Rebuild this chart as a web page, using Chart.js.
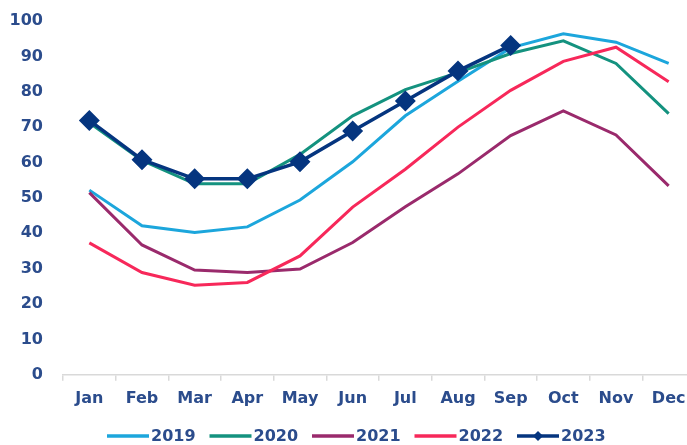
<!DOCTYPE html>
<html>
<head>
<meta charset="utf-8">
<script src="https://cdn.jsdelivr.net/npm/chart.js@4"></script>
<style>
  html, body { margin: 0; padding: 0; background: #fff; overflow: hidden; }
  #wrap { width: 700px; height: 445px; position: relative; }
</style>
</head>
<body>
<div id="wrap"><canvas id="chart"></canvas></div>
<script>
// chart data
const months = ["Jan", "Feb", "Mar", "Apr", "May", "Jun", "Jul", "Aug", "Sep", "Oct", "Nov", "Dec"];
const years = ["2019", "2020", "2021", "2022", "2023"];
const yTicks = [0, 10, 20, 30, 40, 50, 60, 70, 80, 90, 100];

const values2019 = [52.2, 42.1, 40.2, 41.8, 49.4, 60.2, 73.2, 83.0, 92.4, 96.4, 94.0, 88.0];
const values2020 = [71.2, 60.6, 54.0, 54.0, 62.3, 73.2, 80.6, 85.4, 90.8, 94.4, 88.0, 73.8];
const values2021 = [51.5, 36.7, 29.6, 28.9, 29.9, 37.4, 47.5, 56.8, 67.6, 74.6, 67.8, 53.4];
const values2022 = [37.3, 28.9, 25.3, 26.1, 33.6, 47.4, 58.1, 70.0, 80.4, 88.6, 92.6, 82.8];
const values2023 = [71.9, 60.8, 55.4, 55.4, 60.2, 68.9, 77.4, 85.9, 93.1];

const seriesColors = ["#1ca6dc", "#14927f", "#9a2a6c", "#f7285a", "#05357f"];
const textColor = "#2b4c8c";
const fontFamily = "DejaVu Sans";

const seriesValues = [values2019, values2020, values2021, values2022, values2023];

const datasets = years.map((y, i) => ({
  label: y,
  data: seriesValues[i],
  borderColor: seriesColors[i],
  backgroundColor: seriesColors[i],
  borderWidth: i === 4 ? 3.5 : 3,
  pointRadius: i === 4 ? 8 : 0,
  pointHoverRadius: i === 4 ? 8 : 0,
  pointStyle: "rectRot",
  tension: 0,
  fill: false,
  order: 5 - i
}));

// legend drawn by hand so 2023 keeps its diamond on the line
const legendPlugin = {
  id: "bottomLegend",
  afterDraw(chart) {
    const ctx = chart.ctx;
    const y = 436;
    const lineLen = 42;
    const step = 102.5;
    const startX = 107;
    ctx.save();
    ctx.font = "bold 16px " + fontFamily;
    ctx.textBaseline = "middle";
    ctx.textAlign = "left";
    chart.data.datasets.forEach((ds, i) => {
      const x = startX + i * step;
      ctx.strokeStyle = ds.borderColor;
      ctx.lineWidth = 3.5;
      ctx.beginPath();
      ctx.moveTo(x, y);
      ctx.lineTo(x + lineLen, y);
      ctx.stroke();
      if (ds.pointRadius > 0) {
        const cx = x + lineLen / 2, r = 5;
        ctx.fillStyle = ds.borderColor;
        ctx.beginPath();
        ctx.moveTo(cx, y - r);
        ctx.lineTo(cx + r, y);
        ctx.lineTo(cx, y + r);
        ctx.lineTo(cx - r, y);
        ctx.closePath();
        ctx.fill();
      }
      ctx.fillStyle = textColor;
      ctx.fillText(ds.label, x + lineLen + 2, y + 1);
    });
    ctx.restore();
  }
};

new Chart(document.getElementById("chart"), {
  type: "line",
  data: { labels: months, datasets: datasets },
  options: {
    responsive: true,
    maintainAspectRatio: false,
    animation: false,
    layout: { autoPadding: false, padding: { top: 21, left: 10, right: 5, bottom: 29 } },
    plugins: {
      legend: { display: false },
      tooltip: { enabled: false }
    },
    scales: {
      x: {
        offset: true,
        grid: {
          offset: true,
          drawOnChartArea: false,
          drawTicks: true,
          tickLength: 6,
          color: "#d9d9d9",
          lineWidth: 1.5
        },
        border: { display: true, color: "#d9d9d9", width: 1.5 },
        ticks: {
          color: textColor,
          font: { family: fontFamily, size: 16, weight: "bold" },
          padding: 8,
          maxRotation: 0,
          autoSkip: false
        }
      },
      y: {
        min: 0,
        max: 100,
        afterBuildTicks(axis) {
          axis.ticks = yTicks.map(v => ({ value: v }));
        },
        afterFit(axis) {
          axis.width = 53;
          axis.paddingTop = 0;
          axis.paddingBottom = 0;
        },
        grid: { display: false, drawTicks: false },
        border: { display: false },
        ticks: {
          color: textColor,
          font: { family: fontFamily, size: 16, weight: "bold" },
          padding: 20
        }
      }
    }
  },
  plugins: [legendPlugin]
});
</script>
</body>
</html>
